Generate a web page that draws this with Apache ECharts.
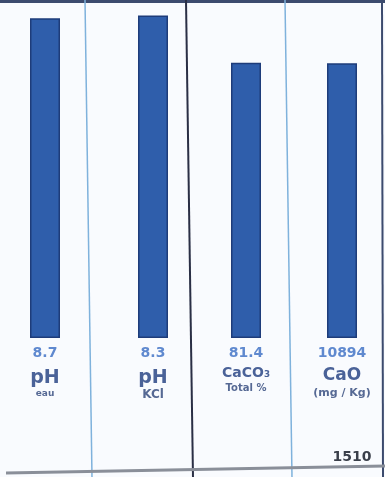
<!DOCTYPE html>
<html>
<head>
<meta charset="utf-8">
<script src="https://cdn.jsdelivr.net/npm/echarts@6/dist/echarts.min.js"></script>
<style>
html,body{margin:0;padding:0;background:#f9fbfe;}
#c{width:385px;height:477px;}
</style>
</head>
<body>
<div id="c"></div>
<script>
// Data
const categories = ['pH', 'pH', 'CaCO₃', 'CaO'];
const subLabels = ['eau', 'KCl', 'Total %', '(mg / Kg)'];
const values = [8.7, 8.3, 81.4, 10894];
const valueLabels = ['8.7', '8.3', '81.4', '10894'];
const axisMax = [9.2, 8.7, 100, 13400];
const footNote = '1510';

const chart = echarts.init(document.getElementById('c'), null, {renderer: 'canvas'});

const FONT = 'DejaVu Sans, Liberation Sans, Arial';
const gridLefts = [5, 113, 206, 302];
const labelMargins = [1, 1, 4, 4];
const valueLH = [29, 29, 23, 23];
const nameSizes = [19, 19, 14, 17];
const nameLH = [20, 20, 17, 21];
const subSizes = [9, 12, 10, 11];
const subLH = [11, 14, 13, 14];

const grids = [], xAxes = [], yAxes = [], series = [];
values.forEach((v, i) => {
  grids.push({left: gridLefts[i], width: 80, top: 0, bottom: 139});
  const rich = {};
  rich['v' + i] = {fontFamily: FONT, fontSize: 14, fontWeight: 'bold', color: '#5f89cf', lineHeight: valueLH[i]};
  rich['n' + i] = {fontFamily: FONT, fontSize: nameSizes[i], fontWeight: 'bold', color: '#4a6298', lineHeight: nameLH[i]};
  rich['s' + i] = {fontFamily: FONT, fontSize: subSizes[i], fontWeight: 'bold', color: '#566994', lineHeight: subLH[i]};
  xAxes.push({
    type: 'category', gridIndex: i, data: [categories[i]],
    axisLine: {show: false}, axisTick: {show: false},
    axisLabel: {
      margin: labelMargins[i],
      interval: 0,
      formatter: () => '{v' + i + '|' + valueLabels[i] + '}\n{n' + i + '|' + categories[i] + '}\n{s' + i + '|' + subLabels[i] + '}',
      rich: rich
    }
  });
  yAxes.push({type: 'value', gridIndex: i, min: 0, max: axisMax[i], show: false, splitLine: {show: false}});
  series.push({
    type: 'bar', xAxisIndex: i, yAxisIndex: i, data: [v], barWidth: 30,
    itemStyle: {color: '#2f5eab', borderColor: '#1e3c7a', borderWidth: 1.5},
    silent: true
  });
});

chart.setOption({
  animation: false,
  backgroundColor: '#f9fbfe',
  grid: grids, xAxis: xAxes, yAxis: yAxes, series: series,
  graphic: [
    {type: 'rect', shape: {x: 0, y: 0, width: 385, height: 3}, style: {fill: '#3c4b6e'}},
    {type: 'line', shape: {x1: 85, y1: 0, x2: 92, y2: 477}, style: {stroke: '#7fb2dc', lineWidth: 1.5}},
    {type: 'line', shape: {x1: 186, y1: 0, x2: 193, y2: 477}, style: {stroke: '#2a2f45', lineWidth: 2}},
    {type: 'line', shape: {x1: 285, y1: 0, x2: 292, y2: 477}, style: {stroke: '#7fb2dc', lineWidth: 1.5}},
    {type: 'line', shape: {x1: 382, y1: 0, x2: 383, y2: 477}, style: {stroke: '#3c4b6e', lineWidth: 2}},
    {type: 'line', shape: {x1: 6, y1: 473, x2: 385, y2: 466}, style: {stroke: '#8a8f99', lineWidth: 3}},
    {type: 'text', x: 352, y: 457, style: {text: footNote, fontFamily: FONT, fontSize: 14, fontWeight: 'bold', fill: '#3a3f4a', align: 'center', verticalAlign: 'middle'}}
  ]
});
</script>
</body>
</html>
